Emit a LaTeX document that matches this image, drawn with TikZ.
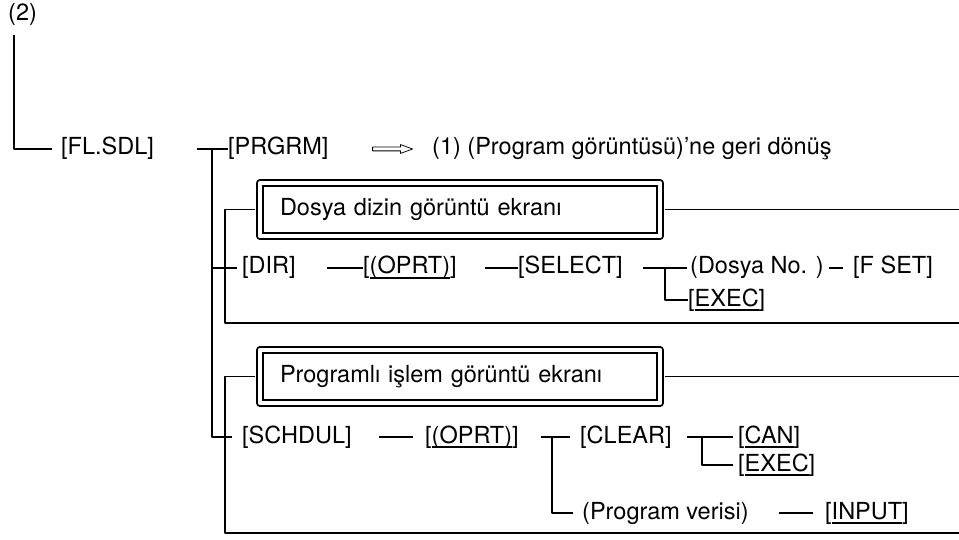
\documentclass[tikz,border=0pt]{standalone}
\usepackage{fontspec}
\setmainfont{TeX Gyre Heros}
\usetikzlibrary{shapes.arrows}

% underlined soft key label
\newcommand{\ulkey}[1]{\setbox0\hbox{#1}\rlap{\rule[-4.5pt]{\wd0}{1.9pt}}\box0}

\tikzset{
  key/.style={anchor=west, inner sep=0pt, text height=17pt, text depth=5pt,
    font=\fontsize{23.5}{28}\selectfont},
  trunkln/.style={line width=2.1pt},
  rowln/.style={line width=1.6pt},
  brackln/.style={line width=1.2pt},
  scrbox/.style={draw, double, double distance=4.5pt, line width=1.7pt,
    minimum height=53pt, text width=360pt, inner xsep=20pt, align=left,
    text height=17pt, text depth=5pt, font=\fontsize{23.5}{28}\selectfont},
  hollowarrow/.style={draw, single arrow, single arrow head extend=2.5pt,
    single arrow tip angle=40, minimum height=40pt, minimum width=8pt,
    inner sep=1.5pt, line width=0.8pt},
}

\begin{document}
\begin{tikzpicture}[x=1pt, y=-1pt, line join=round]
  \useasboundingbox (0,0) rectangle (959,540);

  \node[key] (two) at (8,15) {(2)};
  \node[key] (flsdl) at (61,149) {[FL.SDL]};
  \node[key] (prgrm) at (228,149) {[PRGRM]};
  \node[hollowarrow] (arr) at (390,149) {};
  \node[key] (back) at (432,149) {(1) (Program görüntüsü)’ne geri dönüş};

  % directory screen
  \node[scrbox] (dirbox) at (460,209.5) {Dosya dizin görüntü ekranı};
  \node[key] (dir) at (242,268) {[DIR]};
  \node[key] (oprta) at (363,268) {[\ulkey{(OPRT)}]};
  \node[key] (select) at (518,268) {[SELECT]};
  \node[key] (dosyano) at (690,268) {(Dosya No. )};
  \node[key] (fset) at (853,268) {[F SET]};
  \node[key] (execa) at (688,300) {[\ulkey{EXEC}]};

  % schedule screen
  \node[scrbox] (pgmbox) at (460,376.5) {Programlı işlem görüntü ekranı};
  \node[key] (schdul) at (242,437) {[SCHDUL]};
  \node[key] (oprtb) at (425,437) {[\ulkey{(OPRT)}]};
  \node[key] (clear) at (580,437) {[CLEAR]};
  \node[key] (can) at (738,437) {[\ulkey{CAN}]};
  \node[key] (execb) at (738,465) {[\ulkey{EXEC}]};
  \node[key] (pgmdata) at (582,513) {(Program verisi)};
  \node[key] (input) at (825,513) {[\ulkey{INPUT}]};

  \coordinate (fork) at (212,149);
  \coordinate (dirtl) at (225,209.5);
  \coordinate (dirbl) at (225,323);
  \coordinate (dirbr) at (959,323);
  \coordinate (pgmtl) at (225,376.5);
  \coordinate (pgmbl) at (225,533);
  \coordinate (pgmbr) at (959,533);
  \coordinate (selfork) at (665,268);
  \coordinate (oprfork) at (552,437);
  \coordinate (clrfork) at (702,437);

  % main tree
  \draw[trunkln, shorten <=9pt] ([xshift=6pt]two.south west) |- ([xshift=-9pt]flsdl.west);
  \draw[trunkln, shorten <=43pt] (flsdl.east) -- (prgrm.west);
  \draw[trunkln] (fork) |- ([xshift=-10pt]schdul.west);
  \draw[brackln] (fork |- dir.west) -- ([xshift=-5pt]dir.west);

  % brackets round the screens
  \draw[brackln, shorten <=4pt] (dirbox.west) -- (dirtl) -- (dirbl) -- (dirbr);
  \draw[brackln, shorten <=4pt] (dirbox.east) -- (dirbox.east -| dirbr);
  \draw[brackln, shorten <=4pt] (pgmbox.west) -- (pgmtl) -- (pgmbl) -- (pgmbr);
  \draw[brackln, shorten <=4pt] (pgmbox.east) -- (pgmbox.east -| pgmbr);

  % DIR row
  \draw[rowln, shorten <=31pt] (dir.east) -- (oprta.west);
  \draw[rowln, shorten <=28pt] (oprta.east) -- (select.west);
  \draw[rowln, shorten <=20pt, shorten >=3pt] (select.east) -- (dosyano.west);
  \draw[rowln] (selfork) |- (execa.west);
  \draw[rowln, shorten <=5pt, shorten >=10pt] (dosyano.east) -- (fset.west);

  % SCHDUL row
  \draw[rowln, shorten <=27pt, shorten >=12pt] (schdul.east) -- (oprtb.west);
  \draw[rowln, shorten <=22pt, shorten >=10pt] (oprtb.east) -- (clear.west);
  \draw[rowln] (oprfork) |- ([xshift=-9pt]pgmdata.west);
  \draw[rowln, shorten <=15pt, shorten >=5pt] (clear.east) -- (can.west);
  \draw[rowln] (clrfork) |- ([xshift=-5pt]execb.west);
  \draw[rowln, shorten <=30pt, shorten >=12pt] (pgmdata.east) -- (input.west);
\end{tikzpicture}
\end{document}
